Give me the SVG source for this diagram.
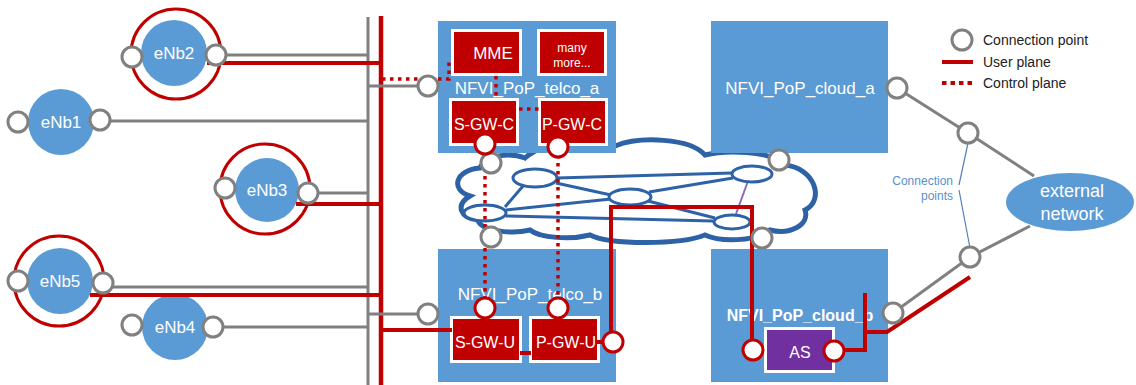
<svg xmlns="http://www.w3.org/2000/svg" width="1136" height="385" viewBox="0 0 1136 385">
<style>
text{font-family:"Liberation Sans",Arial,sans-serif}
.box{fill:#5b9bd5}
.lbl{fill:#fff;font-size:17px;text-anchor:middle}
.vnf{fill:#c00000;stroke:#fff;stroke-width:3}
.vt{fill:#fff;font-size:16px;text-anchor:middle}
.enb{fill:#5b9bd5}
.et{fill:#fff;font-size:17px;text-anchor:middle}
.ring{fill:none;stroke:#c00000;stroke-width:3}
.cp{fill:#fff;stroke:#808080;stroke-width:3}
.cpr{fill:#fff;stroke:#c00000;stroke-width:3}
.g{fill:none;stroke:#808080;stroke-width:3}
.u{fill:none;stroke:#c00000;stroke-width:4}
.c{fill:none;stroke:#c00000;stroke-width:3.5;stroke-dasharray:3.5 4.5}
.cl{fill:none;stroke:#2e62a6;stroke-width:3}
.nd{fill:#fff;stroke:#2e62a6;stroke-width:3}
.lg{fill:#222;font-size:14px}
.bl{fill:none;stroke:#4f81bd;stroke-width:1.2}
</style>

<g id="cloud">
<path d="M470,196 C450,190 455,170 480,168 C485,155 510,152 525,158 C545,140 590,138 615,146 C640,136 690,138 705,155 C725,150 770,150 785,165 C815,168 825,200 805,210 C810,225 790,235 770,230 C755,242 720,242 705,235 C680,245 610,245 590,235 C570,240 540,238 530,230 C510,235 480,230 478,220 C460,218 455,205 470,196 Z" fill="#fff" stroke="#2e62a6" stroke-width="5"/>
<path class="cl" d="M523,186 L505,207 M557,178 L732,173 M556,183 L611,195 M506,210 L611,199 M506,216 L713,221 M649,192 L733,178 M648,201 L715,218"/>
<path d="M748,181 L736,214" stroke="#8e6bb5" stroke-width="2" fill="none"/>
<ellipse class="nd" cx="535" cy="178" rx="22" ry="9"/>
<ellipse class="nd" cx="485" cy="213" rx="21" ry="8"/>
<ellipse class="nd" cx="630" cy="197" rx="21" ry="8"/>
<ellipse class="nd" cx="752" cy="174" rx="20" ry="8"/>
<ellipse class="nd" cx="732" cy="222" rx="18" ry="7"/>
</g>

<g id="NFVI_PoP_telco_a">
<rect class="box" x="438" y="21" width="178" height="132"/>
<text class="lbl" x="527" y="94">NFVI_PoP_telco_a</text>
</g>
<g id="MME">
<rect class="vnf" x="452.5" y="30.5" width="68" height="44"/>
<text class="vt" x="493" y="59" style="font-size:17px">MME</text>
</g>
<g id="many_more">
<rect class="vnf" x="538.5" y="30.5" width="67" height="44"/>
<text class="vt" x="572" y="52" style="font-size:12px">many</text>
<text class="vt" x="572" y="67" style="font-size:12px">more...</text>
</g>
<g id="S-GW-C">
<rect class="vnf" x="450.5" y="99.5" width="67" height="45"/>
<text class="vt" x="484" y="130">S-GW-C</text>
</g>
<g id="P-GW-C">
<rect class="vnf" x="539.5" y="99.5" width="67" height="45"/>
<text class="vt" x="572" y="130">P-GW-C</text>
</g>

<g id="NFVI_PoP_telco_b">
<rect class="box" x="438" y="249" width="178" height="133"/>
<text class="lbl" x="530" y="300">NFVI_PoP_telco_b</text>
</g>
<g id="S-GW-U">
<rect class="vnf" x="451.5" y="317.5" width="69" height="44"/>
<text class="vt" x="485" y="348">S-GW-U</text>
</g>
<g id="P-GW-U">
<rect class="vnf" x="530.5" y="317.5" width="68" height="44"/>
<text class="vt" x="566" y="348">P-GW-U</text>
</g>

<g id="NFVI_PoP_cloud_a">
<rect class="box" x="711" y="21" width="177" height="132"/>
<text class="lbl" x="800" y="94">NFVI_PoP_cloud_a</text>
</g>
<g id="NFVI_PoP_cloud_b">
<rect class="box" x="711" y="249" width="177" height="133"/>
<text class="lbl" x="800" y="321" style="font-size:16px;font-weight:bold">NFVI_PoP_cloud_b</text>
</g>
<g id="AS">
<rect class="vnf" x="765.5" y="328.5" width="68" height="43" style="fill:#7030a0"/>
<text class="vt" x="800" y="358">AS</text>
</g>

<g id="external_network">
<ellipse cx="1070" cy="202" rx="64" ry="29" fill="#5b9bd5"/>
<text class="et" x="1072" y="197" style="font-size:18px">external</text>
<text class="et" x="1072" y="220" style="font-size:18px">network</text>
</g>

<g id="eNb2">
<circle class="ring" cx="176" cy="54" r="45"/>
<circle class="enb" cx="174" cy="53" r="33"/>
<text class="et" x="174" y="59">eNb2</text>
</g>
<g id="eNb1">
<circle class="enb" cx="61" cy="122" r="33"/>
<text class="et" x="61" y="128">eNb1</text>
</g>
<g id="eNb3">
<circle class="ring" cx="265" cy="189" r="45"/>
<circle class="enb" cx="267" cy="190" r="32"/>
<text class="et" x="267" y="196">eNb3</text>
</g>
<g id="eNb5">
<circle class="ring" cx="59" cy="281" r="45"/>
<circle class="enb" cx="60" cy="281" r="33"/>
<text class="et" x="60" y="287">eNb5</text>
</g>
<g id="eNb4">
<circle class="enb" cx="175" cy="327" r="33"/>
<text class="et" x="175" y="333">eNb4</text>
</g>

<g id="connectors">
<path class="g" d="M368,17 V385"/>
<path d="M381,16 V385" fill="none" stroke="#c00000" stroke-width="4.5"/>
<path class="g" d="M216,55 H368 M100,121 H368 M308,193 H368 M103,287 H368 M213,327 H368 M368,86 H428 M368,314 H428"/>
<path class="g" d="M897,88 L968,133 L1034,176 M893,313 L970,257 L1030,226"/>
<path class="u" d="M207,63 H381 M296,204 H381 M90,295 H381 M381,330 H452 M520,353 H531 M597,342 H613"/>
<path class="u" d="M611,333 V207 H752 V350"/>
<path class="u" d="M834,350 H865 V293 M865,332 H887 L970,277"/>
<path class="c" d="M382,79 H449 V60 M496,76 V99 M519,109 H540 M485,144 V308 M558,147 V308"/>
<path class="bl" d="M968,143 L959,185 M959,190 L970,248"/>
</g>

<g id="connection_points">
<circle class="cp" cx="132" cy="57" r="10"/>
<circle class="cp" cx="216" cy="55" r="10"/>
<circle class="cp" cx="18" cy="122" r="10"/>
<circle class="cp" cx="100" cy="120" r="10"/>
<circle class="cp" cx="225" cy="188" r="10"/>
<circle class="cp" cx="308" cy="193" r="10"/>
<circle class="cp" cx="18" cy="281" r="10"/>
<circle class="cp" cx="103" cy="283" r="10"/>
<circle class="cp" cx="132" cy="325" r="10"/>
<circle class="cp" cx="213" cy="327" r="10"/>
<circle class="cp" cx="428" cy="86" r="10"/>
<circle class="cp" cx="428" cy="314" r="10"/>
<circle class="cp" cx="491" cy="163" r="10"/>
<circle class="cp" cx="491" cy="237" r="10"/>
<circle class="cp" cx="779" cy="160" r="10"/>
<circle class="cp" cx="762" cy="238" r="10"/>
<circle class="cp" cx="897" cy="88" r="10"/>
<circle class="cp" cx="893" cy="313" r="10"/>
<circle class="cp" cx="968" cy="133" r="10"/>
<circle class="cp" cx="970" cy="257" r="10"/>
<circle class="cpr" cx="485" cy="144" r="10"/>
<circle class="cpr" cx="558" cy="147" r="10"/>
<circle class="cpr" cx="485" cy="308" r="10"/>
<circle class="cpr" cx="558" cy="308" r="10"/>
<circle class="cpr" cx="613" cy="342" r="10"/>
<circle class="cpr" cx="753" cy="350" r="10"/>
<circle class="cpr" cx="834" cy="351" r="10"/>
</g>

<g id="cp_label">
<text x="953" y="185" text-anchor="end" style="font-size:12px;fill:#5b8fcb">Connection</text>
<text x="953" y="200" text-anchor="end" style="font-size:12px;fill:#5b8fcb">points</text>
</g>

<g id="legend">
<circle class="cp" cx="962" cy="40" r="10"/>
<text class="lg" x="983" y="45">Connection point</text>
<path d="M942,62 H973" stroke="#c00000" stroke-width="4" fill="none"/>
<text class="lg" x="983" y="67">User plane</text>
<path d="M942,83 H973" stroke="#c00000" stroke-width="4" stroke-dasharray="4.5 4" fill="none"/>
<text class="lg" x="983" y="88">Control plane</text>
</g>
</svg>
